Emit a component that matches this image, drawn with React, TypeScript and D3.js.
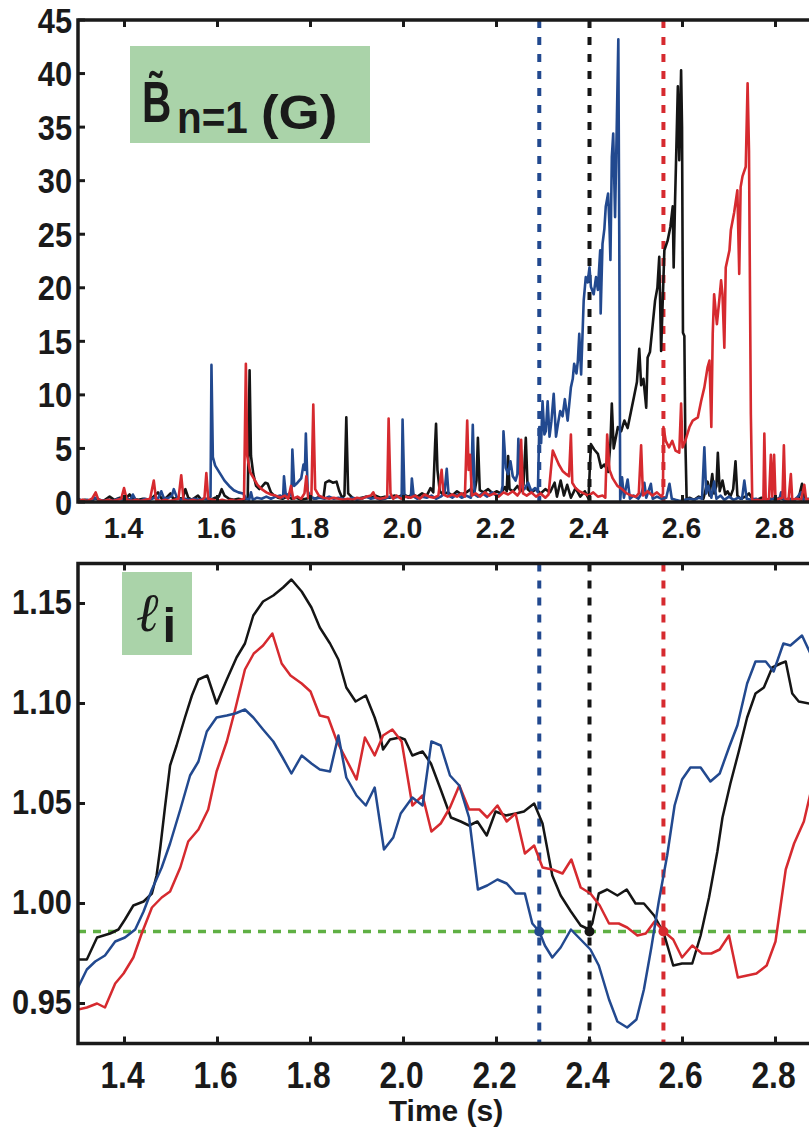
import React from 'react';
import * as d3 from 'd3';

// tick values
const timeTicks = [1.4, 1.6, 1.8, 2.0, 2.2, 2.4, 2.6, 2.8];
const fieldTicks = [0, 5, 10, 15, 20, 25, 30, 35, 40, 45];
const liTicks = [0.95, 1.0, 1.05, 1.1, 1.15];

// n=1 field amplitude (G), [time, value]
const blueField: [number, number][] = [
  [1.300, 0.3], [1.310, 0.1], [1.320, 0.2], [1.330, 0.1], [1.338, 0.4], [1.346, 0.2], [1.356, 0.1], [1.366, 0.2],
  [1.376, 0.1], [1.386, 0.3], [1.396, 0.2], [1.406, 0.3], [1.413, 0.2], [1.418, 0.7], [1.424, 0.2], [1.434, 0.1],
  [1.444, 0.3], [1.454, 0.2], [1.464, 0.4], [1.472, 0.3], [1.479, 1.0], [1.485, 0.3], [1.495, 0.4], [1.502, 0.6],
  [1.506, 1.2], [1.512, 0.5], [1.520, 0.2], [1.530, 0.3], [1.540, 0.2], [1.550, 0.3], [1.560, 0.2], [1.570, 0.3],
  [1.580, 0.2], [1.585, 0.5], [1.587, 12.8], [1.590, 4.2], [1.595, 3.4], [1.605, 2.7], [1.615, 2.0], [1.625, 1.5],
  [1.635, 1.1], [1.645, 0.9], [1.655, 0.8], [1.662, 0.3], [1.668, 0.2], [1.672, 0.9], [1.676, 0.2], [1.685, 0.4],
  [1.695, 0.3], [1.705, 0.5], [1.715, 0.3], [1.725, 0.5], [1.735, 0.6], [1.741, 0.4], [1.743, 2.4], [1.747, 0.6],
  [1.755, 0.8], [1.759, 0.6], [1.761, 4.9], [1.765, 1.5], [1.772, 1.8], [1.780, 2.2], [1.785, 3.5], [1.788, 3.0],
  [1.790, 6.4], [1.794, 1.0], [1.800, 0.5], [1.810, 0.3], [1.820, 0.4], [1.830, 0.3], [1.840, 0.5], [1.850, 0.3],
  [1.860, 0.4], [1.870, 0.3], [1.880, 0.2], [1.890, 0.4], [1.900, 0.2], [1.910, 0.3], [1.920, 0.5], [1.930, 0.3],
  [1.940, 0.4], [1.950, 0.2], [1.960, 0.3], [1.970, 0.5], [1.980, 0.4], [1.990, 0.5], [1.996, 0.4], [1.998, 7.7],
  [2.002, 0.6], [2.010, 0.4], [2.016, 0.5], [2.018, 2.2], [2.022, 0.5], [2.030, 0.3], [2.040, 0.5], [2.050, 0.4],
  [2.060, 0.6], [2.070, 0.3], [2.080, 0.5], [2.088, 0.8], [2.093, 3.1], [2.097, 0.6], [2.105, 0.4], [2.115, 0.7],
  [2.125, 0.4], [2.135, 0.6], [2.145, 0.4], [2.149, 7.2], [2.153, 0.7], [2.160, 0.5], [2.170, 0.8], [2.180, 0.5],
  [2.190, 0.9], [2.200, 0.6], [2.210, 0.8], [2.213, 1.5], [2.215, 6.6], [2.220, 3.2], [2.225, 2.6], [2.230, 3.8],
  [2.235, 2.4], [2.241, 2.0], [2.245, 2.6], [2.247, 5.9], [2.252, 1.5], [2.260, 1.2], [2.268, 1.8], [2.275, 1.0],
  [2.283, 1.3], [2.289, 0.9], [2.292, 7.0], [2.296, 5.5], [2.299, 9.4], [2.303, 6.3], [2.306, 6.6], [2.310, 9.4],
  [2.314, 6.1], [2.318, 7.5], [2.323, 10.1], [2.328, 6.1], [2.333, 7.5], [2.337, 8.5], [2.342, 8.0], [2.347, 9.6],
  [2.353, 7.6], [2.360, 10.7], [2.364, 11.5], [2.367, 12.9], [2.372, 12.0], [2.375, 13.2], [2.378, 15.7], [2.382, 11.9],
  [2.3875, 18.8], [2.392, 21.0], [2.396, 20.5], [2.400, 21.9], [2.403, 20.1], [2.409, 19.4], [2.414, 21.0], [2.418, 19.8],
  [2.423, 23.5], [2.424, 17.6], [2.428, 24.1], [2.432, 25.5], [2.435, 27.6], [2.440, 28.8], [2.443, 25.7], [2.445, 22.6],
  [2.448, 32.2], [2.451, 34.4], [2.455, 26.6], [2.459, 36.0], [2.462, 43.2], [2.464, 25.0], [2.466, 0.2], [2.470, 2.3],
  [2.474, 0.4], [2.482, 2.1], [2.487, 0.3], [2.495, 0.6], [2.505, 0.3], [2.512, 0.8], [2.518, 1.8], [2.522, 0.4],
  [2.532, 1.7], [2.536, 0.3], [2.545, 0.5], [2.555, 0.3], [2.565, 0.4], [2.572, 1.7], [2.577, 0.3], [2.585, 0.2],
  [2.595, 0.1], [2.605, 0.2], [2.615, 0.3], [2.625, 0.2], [2.635, 0.4], [2.642, 0.3], [2.647, 5.1], [2.651, 0.8],
  [2.656, 1.5], [2.662, 0.4], [2.668, 1.9], [2.673, 0.3], [2.682, 0.6], [2.690, 0.2], [2.700, 0.5], [2.710, 0.2],
  [2.720, 0.4], [2.728, 0.3], [2.733, 2.0], [2.738, 0.3], [2.748, 0.2], [2.758, 0.3], [2.768, 0.1], [2.778, 0.3],
  [2.788, 0.2], [2.798, 0.4], [2.808, 0.2], [2.812, 0.9], [2.818, 0.2], [2.828, 0.3], [2.838, 0.1], [2.848, 0.5],
  [2.855, 0.9], [2.860, 0.2], [2.870, 0.3], [2.880, 0.2], [2.890, 0.3], [2.900, 0.2],
];

const blackField: [number, number][] = [
  [1.300, 0.1], [1.315, 0.2], [1.325, 0.1], [1.335, 0.4], [1.345, 0.2], [1.355, 0.1], [1.368, 0.5], [1.378, 0.2],
  [1.390, 0.4], [1.400, 0.2], [1.411, 0.7], [1.418, 0.3], [1.430, 0.2], [1.440, 0.3], [1.450, 0.2], [1.460, 0.4],
  [1.472, 0.9], [1.480, 0.3], [1.490, 0.4], [1.499, 0.8], [1.505, 0.3], [1.515, 0.4], [1.525, 0.3], [1.531, 1.2],
  [1.537, 0.4], [1.545, 0.2], [1.558, 0.6], [1.565, 0.2], [1.575, 0.3], [1.585, 0.2], [1.595, 0.4], [1.603, 0.5],
  [1.609, 1.2], [1.615, 0.6], [1.625, 0.3], [1.635, 0.2], [1.645, 0.3], [1.655, 0.2], [1.665, 0.3], [1.669, 12.3],
  [1.672, 4.3], [1.677, 2.6], [1.683, 1.5], [1.690, 1.2], [1.697, 1.5], [1.703, 1.8], [1.708, 1.7], [1.715, 0.9],
  [1.722, 0.6], [1.730, 0.4], [1.740, 0.3], [1.750, 0.5], [1.760, 0.3], [1.770, 0.4], [1.780, 0.2], [1.790, 0.3],
  [1.800, 0.4], [1.810, 0.3], [1.820, 0.5], [1.828, 0.4], [1.832, 1.8], [1.840, 2.0], [1.848, 1.8], [1.856, 1.9],
  [1.862, 1.0], [1.868, 0.4], [1.873, 0.6], [1.877, 7.9], [1.881, 0.8], [1.890, 0.4], [1.900, 0.3], [1.910, 0.4],
  [1.920, 0.5], [1.930, 0.4], [1.940, 0.6], [1.950, 0.4], [1.960, 0.5], [1.970, 0.4], [1.980, 0.6], [1.990, 0.5],
  [2.000, 0.7], [2.010, 0.5], [2.020, 0.7], [2.030, 0.5], [2.040, 0.8], [2.050, 0.6], [2.058, 1.3], [2.064, 0.9],
  [2.068, 5.4], [2.070, 7.3], [2.073, 3.0], [2.078, 1.0], [2.085, 0.7], [2.095, 0.9], [2.105, 0.6], [2.115, 1.0],
  [2.125, 0.7], [2.135, 0.9], [2.145, 1.2], [2.152, 0.8], [2.157, 2.0], [2.160, 6.0], [2.164, 1.1], [2.172, 0.9],
  [2.182, 1.2], [2.192, 0.8], [2.200, 1.0], [2.210, 0.8], [2.218, 1.4], [2.222, 1.0], [2.225, 4.3], [2.228, 1.2],
  [2.236, 1.0], [2.245, 1.5], [2.252, 1.0], [2.258, 1.6], [2.263, 6.0], [2.267, 1.2], [2.275, 0.9], [2.285, 1.2],
  [2.295, 0.8], [2.305, 1.2], [2.315, 0.9], [2.325, 1.8], [2.330, 0.5], [2.338, 2.0], [2.345, 0.6], [2.352, 1.6],
  [2.360, 0.4], [2.370, 1.3], [2.380, 0.5], [2.390, 1.0], [2.398, 0.3], [2.401, 3.5], [2.403, 5.4], [2.410, 4.9],
  [2.418, 4.5], [2.425, 3.2], [2.432, 3.5], [2.440, 2.8], [2.445, 5.5], [2.448, 9.2], [2.452, 5.0], [2.461, 7.0],
  [2.468, 6.6], [2.475, 7.6], [2.482, 6.9], [2.489, 8.4], [2.496, 9.9], [2.502, 11.2], [2.507, 14.3], [2.511, 10.9],
  [2.516, 11.5], [2.522, 8.8], [2.525, 13.5], [2.530, 14.0], [2.536, 16.6], [2.541, 18.8], [2.546, 20.0], [2.550, 22.9],
  [2.554, 14.1], [2.561, 23.5], [2.568, 24.4], [2.574, 25.7], [2.579, 27.6], [2.581, 21.9], [2.584, 28.1], [2.586, 31.6],
  [2.590, 38.8], [2.593, 31.9], [2.597, 40.3], [2.599, 35.0], [2.601, 15.8], [2.604, 15.5], [2.606, 6.0], [2.609, 0.1],
  [2.615, 0.4], [2.625, 0.2], [2.635, 0.5], [2.645, 0.3], [2.650, 1.2], [2.654, 1.9], [2.658, 0.6], [2.664, 2.6],
  [2.668, 0.8], [2.673, 1.5], [2.676, 4.6], [2.680, 1.0], [2.686, 2.0], [2.692, 0.7], [2.697, 1.0], [2.703, 0.5],
  [2.709, 1.2], [2.714, 3.8], [2.718, 0.6], [2.725, 0.3], [2.735, 0.5], [2.743, 0.8], [2.750, 0.3], [2.760, 0.2],
  [2.770, 0.4], [2.780, 0.2], [2.790, 0.3], [2.800, 0.2], [2.810, 0.4], [2.820, 0.2], [2.830, 0.3], [2.840, 0.2],
  [2.850, 0.4], [2.857, 1.7], [2.862, 0.3], [2.872, 0.2], [2.885, 0.3], [2.900, 0.2],
];

const redField: [number, number][] = [
  [1.300, 0.1], [1.310, 0.2], [1.320, 0.1], [1.330, 0.3], [1.338, 0.9], [1.344, 0.2], [1.355, 0.1], [1.365, 0.2],
  [1.375, 0.1], [1.385, 0.2], [1.393, 0.3], [1.399, 1.3], [1.405, 0.2], [1.415, 0.1], [1.425, 0.2], [1.435, 0.1],
  [1.445, 0.2], [1.455, 0.3], [1.463, 2.0], [1.468, 0.2], [1.478, 0.1], [1.488, 0.2], [1.498, 0.1], [1.508, 0.2],
  [1.516, 0.3], [1.522, 2.5], [1.527, 0.2], [1.537, 0.1], [1.547, 0.2], [1.557, 0.1], [1.567, 0.2], [1.572, 0.4],
  [1.576, 2.7], [1.580, 0.3], [1.590, 0.2], [1.600, 0.1], [1.610, 0.2], [1.620, 0.1], [1.630, 0.2], [1.640, 0.1],
  [1.650, 0.2], [1.657, 0.3], [1.661, 12.9], [1.664, 4.3], [1.670, 2.8], [1.678, 2.2], [1.686, 1.6], [1.695, 1.2],
  [1.705, 0.9], [1.715, 0.7], [1.725, 0.6], [1.735, 0.4], [1.745, 0.6], [1.752, 0.3], [1.758, 1.5], [1.763, 0.3],
  [1.772, 0.5], [1.780, 0.3], [1.787, 0.8], [1.791, 2.4], [1.795, 0.4], [1.802, 0.6], [1.806, 9.1], [1.810, 1.2],
  [1.818, 0.6], [1.828, 0.4], [1.840, 0.3], [1.850, 0.4], [1.860, 0.3], [1.870, 0.2], [1.880, 0.3], [1.890, 0.2],
  [1.900, 0.4], [1.910, 0.3], [1.920, 0.5], [1.930, 0.6], [1.935, 0.9], [1.940, 0.4], [1.950, 0.3], [1.960, 0.4],
  [1.965, 0.5], [1.968, 7.8], [1.972, 0.8], [1.978, 0.3], [1.985, 0.6], [1.995, 0.3], [2.005, 0.5], [2.015, 0.4],
  [2.025, 0.6], [2.035, 0.3], [2.045, 0.7], [2.055, 0.5], [2.065, 0.4], [2.075, 0.6], [2.082, 3.0], [2.086, 0.7],
  [2.095, 0.5], [2.105, 0.7], [2.115, 0.5], [2.125, 0.8], [2.132, 0.5], [2.137, 7.6], [2.140, 3.0], [2.143, 4.4],
  [2.147, 0.6], [2.155, 0.8], [2.165, 0.5], [2.175, 0.9], [2.185, 0.6], [2.195, 0.8], [2.205, 0.5], [2.215, 0.9],
  [2.225, 0.7], [2.235, 1.0], [2.245, 0.6], [2.250, 0.9], [2.253, 5.8], [2.257, 0.8], [2.265, 0.6], [2.275, 0.9],
  [2.285, 0.5], [2.295, 0.8], [2.305, 0.4], [2.312, 0.7], [2.318, 3.5], [2.321, 4.8], [2.327, 4.2], [2.334, 3.5],
  [2.342, 2.9], [2.350, 2.6], [2.356, 2.4], [2.360, 6.3], [2.363, 1.8], [2.370, 1.3], [2.378, 1.0], [2.388, 0.8],
  [2.398, 0.6], [2.408, 0.9], [2.418, 0.5], [2.428, 0.6], [2.434, 0.4], [2.438, 6.3], [2.443, 3.0], [2.450, 2.2],
  [2.460, 1.5], [2.470, 1.2], [2.480, 0.8], [2.490, 0.6], [2.500, 0.5], [2.506, 0.8], [2.511, 5.3], [2.515, 0.6],
  [2.525, 1.0], [2.535, 0.6], [2.545, 0.9], [2.555, 0.5], [2.558, 0.8], [2.559, 7.0], [2.564, 5.7], [2.571, 5.1],
  [2.578, 5.7], [2.585, 4.8], [2.593, 4.6], [2.597, 9.2], [2.600, 5.1], [2.606, 5.7], [2.615, 7.0], [2.622, 7.6],
  [2.633, 7.9], [2.640, 9.4], [2.647, 10.7], [2.654, 12.6], [2.658, 13.2], [2.662, 7.0], [2.665, 15.7], [2.668, 19.4],
  [2.674, 16.6], [2.679, 18.8], [2.683, 20.7], [2.686, 19.4], [2.690, 14.4], [2.693, 21.9], [2.701, 23.5], [2.704, 25.4],
  [2.711, 27.0], [2.718, 29.1], [2.722, 21.3], [2.725, 29.4], [2.729, 30.4], [2.736, 31.3], [2.740, 39.1], [2.743, 32.8],
  [2.747, 8.2], [2.750, 0.1], [2.760, 0.2], [2.770, 0.1], [2.774, 0.3], [2.776, 6.4], [2.779, 0.2], [2.786, 0.3],
  [2.790, 4.4], [2.793, 0.5], [2.797, 4.4], [2.800, 0.2], [2.808, 0.3], [2.815, 0.4], [2.818, 5.3], [2.821, 0.3],
  [2.828, 0.2], [2.833, 2.6], [2.836, 0.2], [2.845, 0.3], [2.855, 0.2], [2.862, 1.6], [2.866, 0.2], [2.875, 0.3],
  [2.885, 0.1], [2.900, 0.2],
];

// internal inductance l_i, [time, value]
const blackLi: [number, number][] = [
  [1.300, 0.972], [1.319, 0.972], [1.341, 0.983], [1.369, 0.985], [1.387, 0.987], [1.401, 0.992], [1.419, 0.999],
  [1.441, 1.001], [1.459, 1.005], [1.469, 1.014], [1.477, 1.028], [1.487, 1.048], [1.498, 1.069], [1.512, 1.079],
  [1.530, 1.093], [1.545, 1.104], [1.559, 1.112], [1.578, 1.114], [1.598, 1.100], [1.620, 1.112], [1.641, 1.123],
  [1.659, 1.130], [1.677, 1.144], [1.698, 1.151], [1.720, 1.154], [1.741, 1.158], [1.759, 1.162], [1.781, 1.156],
  [1.802, 1.148], [1.820, 1.138], [1.842, 1.130], [1.860, 1.122], [1.877, 1.108], [1.897, 1.101], [1.919, 1.104],
  [1.938, 1.093], [1.949, 1.085], [1.956, 1.077], [1.971, 1.082], [1.992, 1.083], [2.003, 1.082], [2.019, 1.074],
  [2.041, 1.076], [2.059, 1.070], [2.080, 1.057], [2.102, 1.043], [2.123, 1.041], [2.141, 1.039], [2.159, 1.041],
  [2.179, 1.034], [2.198, 1.046], [2.220, 1.044], [2.241, 1.045], [2.259, 1.046], [2.281, 1.050], [2.299, 1.040],
  [2.320, 1.014], [2.338, 1.004], [2.360, 0.996], [2.381, 0.989], [2.399, 0.987], [2.406, 0.990], [2.420, 1.005],
  [2.438, 1.007], [2.460, 1.004], [2.480, 1.007], [2.499, 1.000], [2.517, 1.000], [2.539, 0.994], [2.560, 0.985],
  [2.580, 0.969], [2.599, 0.970], [2.621, 0.970], [2.639, 0.984], [2.657, 1.003], [2.675, 1.026], [2.686, 1.043],
  [2.703, 1.060], [2.721, 1.076], [2.739, 1.093], [2.757, 1.105], [2.775, 1.108], [2.793, 1.118], [2.811, 1.120],
  [2.822, 1.121], [2.836, 1.105], [2.850, 1.101], [2.873, 1.100], [2.890, 1.100],
];

const blueLi: [number, number][] = [
  [1.300, 0.958], [1.319, 0.967], [1.337, 0.971], [1.358, 0.974], [1.380, 0.981], [1.401, 0.983], [1.423, 0.987],
  [1.441, 0.996], [1.459, 1.007], [1.480, 1.018], [1.498, 1.030], [1.520, 1.047], [1.541, 1.064], [1.559, 1.071],
  [1.577, 1.086], [1.598, 1.093], [1.620, 1.094], [1.638, 1.095], [1.659, 1.097], [1.677, 1.093], [1.698, 1.087],
  [1.720, 1.081], [1.740, 1.073], [1.759, 1.065], [1.781, 1.074], [1.802, 1.070], [1.820, 1.067], [1.842, 1.066],
  [1.860, 1.084], [1.877, 1.063], [1.899, 1.054], [1.919, 1.049], [1.938, 1.058], [1.958, 1.027], [1.978, 1.033],
  [1.994, 1.045], [2.019, 1.053], [2.041, 1.049], [2.060, 1.081], [2.080, 1.079], [2.100, 1.064], [2.120, 1.059],
  [2.141, 1.043], [2.160, 1.007], [2.180, 1.009], [2.202, 1.012], [2.222, 1.010], [2.241, 1.005], [2.261, 1.005],
  [2.277, 0.990], [2.292, 0.986], [2.304, 0.979], [2.320, 0.973], [2.338, 0.978], [2.360, 0.987], [2.381, 0.982],
  [2.402, 0.977], [2.420, 0.969], [2.442, 0.952], [2.460, 0.941], [2.481, 0.938], [2.501, 0.942], [2.517, 0.957],
  [2.533, 0.978], [2.549, 1.001], [2.567, 1.024], [2.583, 1.049], [2.599, 1.062], [2.617, 1.068], [2.639, 1.068],
  [2.660, 1.061], [2.680, 1.065], [2.700, 1.078], [2.718, 1.089], [2.739, 1.110], [2.757, 1.121], [2.779, 1.121],
  [2.796, 1.116], [2.817, 1.130], [2.832, 1.129], [2.857, 1.134], [2.873, 1.126], [2.890, 1.118],
];

const redLi: [number, number][] = [
  [1.300, 0.947], [1.319, 0.948], [1.341, 0.950], [1.358, 0.948], [1.380, 0.960], [1.398, 0.965], [1.419, 0.973],
  [1.437, 0.985], [1.459, 0.998], [1.480, 1.003], [1.498, 1.006], [1.520, 1.018], [1.537, 1.031], [1.559, 1.037],
  [1.580, 1.047], [1.598, 1.066], [1.620, 1.081], [1.638, 1.097], [1.659, 1.117], [1.678, 1.125], [1.698, 1.129],
  [1.718, 1.135], [1.738, 1.120], [1.757, 1.114], [1.781, 1.110], [1.800, 1.106], [1.820, 1.094], [1.838, 1.093],
  [1.857, 1.081], [1.877, 1.072], [1.899, 1.062], [1.917, 1.083], [1.938, 1.074], [1.956, 1.084], [1.976, 1.087],
  [1.996, 1.081], [2.019, 1.049], [2.041, 1.054], [2.060, 1.036], [2.080, 1.040], [2.100, 1.048], [2.120, 1.059],
  [2.141, 1.047], [2.163, 1.047], [2.180, 1.043], [2.202, 1.049], [2.222, 1.041], [2.241, 1.045], [2.261, 1.025],
  [2.281, 1.029], [2.299, 1.018], [2.320, 1.017], [2.342, 1.015], [2.361, 1.022], [2.381, 1.008], [2.402, 1.005],
  [2.422, 0.999], [2.442, 0.990], [2.463, 0.990], [2.481, 0.988], [2.503, 0.984], [2.521, 0.985], [2.540, 0.991],
  [2.560, 0.986], [2.580, 0.982], [2.599, 0.973], [2.621, 0.979], [2.642, 0.975], [2.662, 0.975], [2.680, 0.977],
  [2.700, 0.984], [2.719, 0.963], [2.739, 0.964], [2.759, 0.965], [2.781, 0.969], [2.800, 0.981], [2.811, 0.999],
  [2.822, 1.017], [2.840, 1.030], [2.861, 1.041], [2.873, 1.053], [2.890, 1.070],
];

// collapse times of the three shots and the l_i threshold
const shotNames = ['blue', 'black', 'red'];
const collapseTimes = [2.292, 2.4, 2.559];
const liThreshold = 0.986;

const COLORS: Record<string, string> = { blue: '#22498f', black: '#151515', red: '#d62a2f' };
const INK = '#1a1a1a';
const SANS = "'Liberation Sans', Arial, Helvetica, sans-serif";

const x = d3.scaleLinear().domain([1.3, 2.9]).range([78, 822]);
const yField = d3.scaleLinear().domain([0, 45]).range([502, 20]);
const yLi = d3.scaleLinear().domain([0.93, 1.17]).range([1043.5, 563.5]);

const Txt = ({ x: tx, y: ty, size, sx = 1, anchor = 'start', weight = 'bold', family = SANS, italic = false, children }: any) => (
  <text
    transform={`translate(${tx},${ty}) scale(${sx},1)`}
    textAnchor={anchor}
    fontSize={size}
    fontWeight={weight}
    fontFamily={family}
    fontStyle={italic ? 'italic' : 'normal'}
    fill={INK}
  >
    {children}
  </text>
);

const Frame = ({ y, ticks, fmt, labelDy, xLabelY, xLabelSize, xLabelSx, xLabelDx }: any) => {
  const [y0, y1] = y.range();
  const top = Math.min(y0, y1);
  const bottom = Math.max(y0, y1);
  const [xl, xr] = x.range();
  return (
    <g>
      {ticks.map((t: number) => (
        <g key={`y${t}`}>
          <line x1={xl} x2={xl + 7} y1={y(t)} y2={y(t)} stroke={INK} strokeWidth={3} />
          <Txt x={72} y={y(t) + labelDy} size={35} sx={0.88} anchor="end">{fmt(t)}</Txt>
        </g>
      ))}
      {timeTicks.map((t) => (
        <g key={`x${t}`}>
          <line x1={x(t)} x2={x(t)} y1={top} y2={top + 7} stroke={INK} strokeWidth={3} />
          <line x1={x(t)} x2={x(t)} y1={bottom} y2={bottom - 7} stroke={INK} strokeWidth={3} />
          <Txt x={x(t) + xLabelDx} y={xLabelY} size={xLabelSize} sx={xLabelSx} anchor="middle">{t.toFixed(1)}</Txt>
        </g>
      ))}
      <rect x={xl} y={top} width={xr - xl} height={bottom - top} fill="none" stroke={INK} strokeWidth={3.5} />
    </g>
  );
};

export default function App() {
  const fieldLine = d3.line<[number, number]>().x((d) => x(d[0])).y((d) => yField(d[1]));
  const liLine = d3.line<[number, number]>().x((d) => x(d[0])).y((d) => yLi(d[1]));
  const fieldSeries = [['black', blackField], ['blue', blueField], ['red', redField]] as [string, [number, number][]][];
  const liSeries = [['black', blackLi], ['red', redLi], ['blue', blueLi]] as [string, [number, number][]][];

  return (
    <svg width={809} height={1130} style={{ position: 'absolute', left: 0, top: 0, background: '#fff' }}>
      <defs>
        <clipPath id="clipField">
          <rect x={78} y={20} width={744} height={482} />
        </clipPath>
        <clipPath id="clipLi">
          <rect x={78} y={563.5} width={744} height={480} />
        </clipPath>
      </defs>
      <rect width={809} height={1130} fill="#fff" />

      {/* top panel: n=1 amplitude */}
      <rect x={130} y={46} width={240} height={97} fill="#aad3a9" />
      <Txt x={142} y={121.7} size={58} sx={0.7}>{'B\u0303'}</Txt>
      <Txt x={177} y={133} size={44} sx={0.92}>n=1</Txt>
      <Txt x={261} y={129} size={49} sx={1.08}>(G)</Txt>
      <g clipPath="url(#clipField)">
        {collapseTimes.map((t, i) => (
          <line key={i} x1={x(t)} x2={x(t)} y1={20} y2={502} stroke={COLORS[shotNames[i]]} strokeWidth={4} strokeDasharray="8 9" />
        ))}
        {fieldSeries.map(([name, data]) => (
          <path key={name} d={fieldLine(data) || ''} fill="none" stroke={COLORS[name]} strokeWidth={2.6} strokeLinejoin="round" />
        ))}
      </g>
      <Frame y={yField} ticks={fieldTicks} fmt={(v: number) => String(v)} labelDy={12.5} xLabelY={537.5} xLabelSize={30} xLabelSx={0.95} xLabelDx={-1} />

      {/* bottom panel: internal inductance */}
      <rect x={122} y={572} width={70} height={83} fill="#aad3a9" />
      <Txt x={136} y={631} size={54} weight="normal" italic family="'DejaVu Serif', serif">ℓ</Txt>
      <Txt x={162.6} y={641.7} size={49}>i</Txt>
      <g clipPath="url(#clipLi)">
        <line x1={78} x2={822} y1={yLi(liThreshold)} y2={yLi(liThreshold)} stroke="#5fb044" strokeWidth={3.5} strokeDasharray="8 7" />
        {collapseTimes.map((t, i) => (
          <line key={i} x1={x(t)} x2={x(t)} y1={563.5} y2={1043.5} stroke={COLORS[shotNames[i]]} strokeWidth={4} strokeDasharray="8 9" />
        ))}
        {liSeries.map(([name, data]) => (
          <path key={name} d={liLine(data) || ''} fill="none" stroke={COLORS[name]} strokeWidth={2.5} strokeLinejoin="round" />
        ))}
        {collapseTimes.map((t, i) => (
          <circle key={i} cx={x(t)} cy={yLi(liThreshold)} r={5} fill={COLORS[shotNames[i]]} />
        ))}
      </g>
      <Frame y={yLi} ticks={liTicks} fmt={(v: number) => v.toFixed(2)} labelDy={10} xLabelY={1088} xLabelSize={37} xLabelSx={0.86} xLabelDx={-2} />
      <Txt x={446} y={1120.7} size={30} anchor="middle">Time (s)</Txt>
    </svg>
  );
}
